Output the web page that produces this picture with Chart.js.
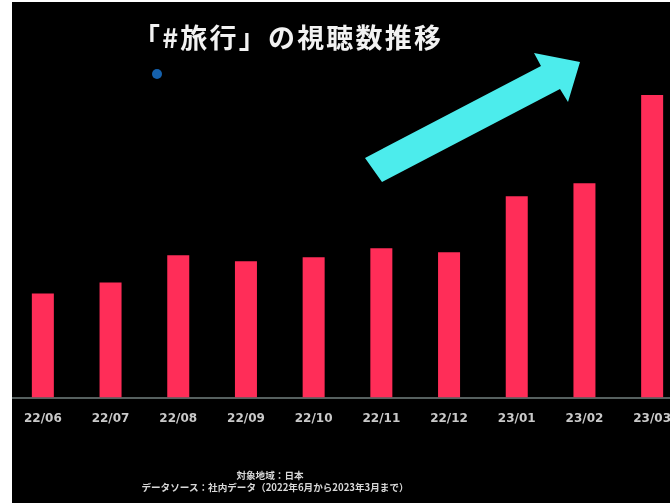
<!DOCTYPE html>
<html>
<head>
<meta charset="utf-8">
<script src="https://cdn.jsdelivr.net/npm/chart.js@4/dist/chart.umd.min.js"></script>
<style>
  html, body { margin: 0; padding: 0; width: 670px; height: 503px; overflow: hidden; background: #fff; }
  #bg { position: absolute; left: 12px; top: 2px; width: 658px; height: 501px; background: #000; }
  #wrap { position: absolute; left: 9px; top: 0; width: 690px; height: 503px; }
  #strip { position: absolute; left: 0; top: 0; width: 12px; height: 503px; background: #fff; }
  .title { position: absolute; left: 133px; top: 17px; color: #f2f2f2; font: bold 27px "Noto Sans CJK JP"; letter-spacing: 2.2px; white-space: nowrap; }
  .dot { position: absolute; left: 152px; top: 69px; width: 10px; height: 10px; border-radius: 50%; background: #1561ad; }
  .note { position: absolute; width: 670px; text-align: center; color: #d8d8d8; font: bold 9.6px "Noto Sans CJK JP"; white-space: nowrap; }
  svg { position: absolute; left: 0; top: 0; }
</style>
</head>
<body>
<div id="bg"></div>
<div id="wrap"><canvas id="chart" width="690" height="503"></canvas></div>
<div id="strip"></div>
<div class="title">「#旅行」の視聴数推移</div>
<div class="dot"></div>
<svg width="670" height="503">
  <polygon points="365,158 541,66 534,53 580,62 568,102 560,89 382,182" fill="#4cecec"/>
</svg>
<div class="note" style="top:468px; left:-65px;">対象地域：日本</div>
<div class="note" style="top:480px; left:-60px;">データソース：社内データ（2022年6月から2023年3月まで）</div>
<script>
const months = ['22/06', '22/07', '22/08', '22/09', '22/10', '22/11', '22/12', '23/01', '23/02', '23/03'];
const views = [104, 115, 142, 136, 140, 149, 145, 201, 214, 302];
const yMax = 319;

const ctx = document.getElementById('chart').getContext('2d');
new Chart(ctx, {
  type: 'bar',
  data: {
    labels: months,
    datasets: [{
      data: views,
      backgroundColor: '#ff2d58',
      barPercentage: 0.325,
      categoryPercentage: 1
    }]
  },
  options: {
    responsive: false,
    animation: false,
    layout: { padding: { left: 0, right: 13, top: 78, bottom: 71 } },
    plugins: { legend: { display: false }, tooltip: { enabled: false } },
    scales: {
      x: {
        grid: { display: false },
        border: { display: true, color: '#56605f', width: 2 },
        ticks: { color: '#c9c9c9', font: { family: 'DejaVu Sans', weight: 'bold', size: 12 }, padding: 6, maxRotation: 0, autoSkip: false }
      },
      y: { display: false, min: 0, max: yMax }
    }
  }
});
</script>
</body>
</html>
